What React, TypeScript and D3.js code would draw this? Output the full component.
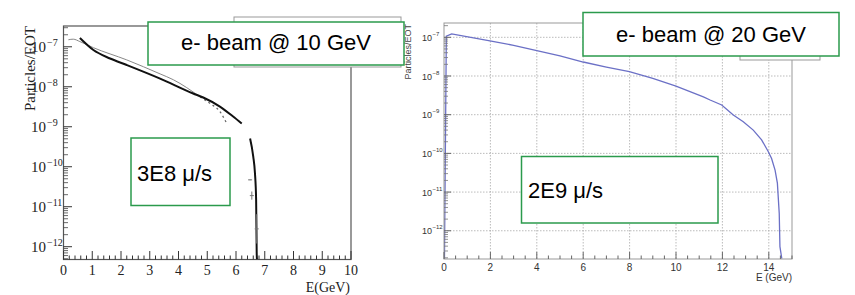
import React from "react";
import * as d3 from "d3";

// left plot (10 GeV beam)
const leftSolidE = [0.57, 1.04, 1.62, 2.2, 3.36, 4.51, 4.86, 5.44, 5.9, 6.2];
const leftSolidV = [1.66e-7, 8.3e-8, 5.1e-8, 3.5e-8, 1.6e-8, 6.8e-9, 5.4e-9, 3.2e-9, 1.8e-9, 1.2e-9];
const leftTailE = [6.49, 6.6, 6.66, 6.7, 6.72, 6.73];
const leftTailV = [5.1e-10, 1.8e-10, 6.8e-11, 1.5e-11, 7e-13, 4.8e-13];
const leftThinE = [0.17, 0.34, 0.57, 1.04, 2.2, 3.36, 3.82, 4.75];
const leftThinV = [1.5e-7, 1.55e-7, 1.35e-7, 9.5e-8, 4.7e-8, 2.1e-8, 1.5e-8, 5.6e-9];
const leftDotE = [4.75, 5.1, 5.44, 5.68];
const leftDotV = [5.6e-9, 3.8e-9, 2.4e-9, 1.2e-9];
const leftErrE = [6.49, 6.55, 6.72];
const leftErrLo = [4.6e-11, 1.5e-11, 1.2e-12];
const leftErrHi = [4.8e-11, 2.4e-11, 6.5e-12];

// right plot (20 GeV beam)
const rightE = [0.02, 0.1, 0.33, 1.98, 3.0, 4.0, 5.0, 6.0, 7.0, 7.99, 9.0, 10.0, 11.18, 11.47, 11.97, 12.47, 12.9, 13.33, 13.69, 13.98, 14.12, 14.27, 14.37, 14.45, 14.48, 14.56];
const rightV = [1.9e-13, 1.07e-7, 1.23e-7, 8.1e-8, 6.2e-8, 4.5e-8, 3.3e-8, 2.3e-8, 1.7e-8, 1.3e-8, 8.7e-9, 5.5e-9, 2.9e-9, 2.4e-9, 1.78e-9, 9.8e-10, 6.6e-10, 4e-10, 2.24e-10, 1.1e-10, 7.4e-11, 3.7e-11, 1.7e-11, 2.8e-12, 3.9e-13, 1.9e-13];

const leftXTicks = [0, 1, 2, 3, 4, 5, 6, 7, 8, 9, 10];
const rightXTicks = [0, 2, 4, 6, 8, 10, 12, 14];
const decades = [-7, -8, -9, -10, -11, -12];

const green = "#2b9a4c";
const blue = "#6b70c6";

function logMinors(lo: number, hi: number) {
  const out: number[] = [];
  for (let d = Math.floor(lo); d <= Math.ceil(hi); d++) {
    for (let k = 2; k <= 9; k++) {
      const v = Math.log10(k) + d;
      if (v > lo && v < hi) out.push(Math.pow(10, v));
    }
  }
  return out;
}

export default function App() {
  // left scales
  const xL = d3.scaleLinear().domain([0, 10]).range([63.5, 351]);
  const yL = d3.scaleLog().domain([Math.pow(10, -12.32), Math.pow(10, -6.48)]).range([259.5, 26]);
  // right scales
  const xR = d3.scaleLinear().domain([0, 15]).range([444, 792]);
  const yR = d3.scaleLog().domain([Math.pow(10, -12.73), Math.pow(10, -6.63)]).range([259, 23]);

  const lineL = d3
    .line<[number, number]>()
    .x((d) => xL(d[0]))
    .y((d) => yL(d[1]))
    .curve(d3.curveMonotoneX);
  const lineR = d3.line<[number, number]>().x((d) => xR(d[0])).y((d) => yR(d[1]));
  const zip = (a: number[], b: number[]) => a.map((e, i) => [e, b[i]] as [number, number]);

  const leftMinorX = d3.range(0, 10.001, 0.2).filter((v) => Math.abs(v - Math.round(v)) > 0.01);
  const rightMinorX = d3.range(0, 15.001, 0.5).filter((v) => v % 2 !== 0);
  const leftMinorY = logMinors(-12.32, -6.48);
  const rightMinorY = logMinors(-12.73, -6.63);

  const serif = "'Liberation Serif', 'DejaVu Serif', serif";
  const sans = "'Liberation Sans', Arial, sans-serif";

  return (
    <svg width={855} height={295} style={{ position: "absolute", left: 0, top: 0, background: "#fff" }}>
      <defs>
        <clipPath id="clipL">
          <rect x={63.5} y={26} width={287.5} height={233.5} />
        </clipPath>
        <clipPath id="clipR">
          <rect x={444} y={23} width={348} height={236} />
        </clipPath>
      </defs>

      {/* ---- left panel ---- */}
      <rect x={63.5} y={26} width={287.5} height={233.5} fill="none" stroke="#555" strokeWidth={1.2} />
      {leftXTicks.map((t) => (
        <g key={"lx" + t}>
          <line x1={xL(t)} x2={xL(t)} y1={259.5} y2={251} stroke="#333" />
          <text x={xL(t)} y={274.5} textAnchor="middle" fontFamily={serif} fontSize={14} fill="#222">{t}</text>
        </g>
      ))}
      {leftMinorX.map((t, i) => (
        <line key={"lmx" + i} x1={xL(t)} x2={xL(t)} y1={259.5} y2={255.5} stroke="#333" />
      ))}
      {decades.map((d) => (
        <g key={"ly" + d}>
          <line x1={63.5} x2={72} y1={yL(Math.pow(10, d))} y2={yL(Math.pow(10, d))} stroke="#333" />
          <text x={46} y={yL(Math.pow(10, d)) + 5} textAnchor="end" fontFamily={serif} fontSize={15} fill="#222">10</text>
          <text x={47} y={yL(Math.pow(10, d)) - 1} fontFamily={serif} fontSize={10} fill="#222">{"\u2212" + -d}</text>
        </g>
      ))}
      {leftMinorY.map((v, i) => (
        <line key={"lmy" + i} x1={63.5} x2={68} y1={yL(v)} y2={yL(v)} stroke="#444" strokeWidth={0.8} />
      ))}
      <text transform="translate(35,26) rotate(-90)" textAnchor="end" fontFamily={serif} fontSize={15} fill="#222">Particles/EOT</text>
      <text x={350} y={291.5} textAnchor="end" fontFamily={serif} fontSize={14} fill="#222">E(GeV)</text>

      <g clipPath="url(#clipL)" fill="none">
        <path d={lineL(zip(leftThinE, leftThinV)) || ""} stroke="#888" strokeWidth={1} />
        <path d={lineL(zip(leftDotE, leftDotV)) || ""} stroke="#666" strokeWidth={1.3} strokeDasharray="2,3" />
        <path d={lineL(zip(leftSolidE, leftSolidV)) || ""} stroke="#111" strokeWidth={2} />
        <path d={lineL(zip(leftTailE, leftTailV)) || ""} stroke="#111" strokeWidth={2} />
        {leftErrE.map((e, i) => (
          <g key={"err" + i} stroke="#777" strokeWidth={1}>
            <line x1={xL(e)} x2={xL(e)} y1={yL(leftErrLo[i])} y2={yL(leftErrHi[i])} />
            <line x1={xL(e) - 2} x2={xL(e) + 2} y1={(yL(leftErrLo[i]) + yL(leftErrHi[i])) / 2} y2={(yL(leftErrLo[i]) + yL(leftErrHi[i])) / 2} />
          </g>
        ))}
      </g>

      {/* box behind the title, left */}
      <rect x={234} y={17} width={167} height={50} fill="#fff" stroke="#999" strokeWidth={1} />

      {/* ---- right panel ---- */}
      <g stroke="#aaa" strokeWidth={0.8} strokeDasharray="1.5,1.5">
        {rightXTicks.filter((t) => t > 0).map((t) => (
          <line key={"gx" + t} x1={xR(t)} x2={xR(t)} y1={23} y2={259} />
        ))}
        {decades.map((d) => (
          <line key={"gy" + d} x1={444} x2={792} y1={yR(Math.pow(10, d))} y2={yR(Math.pow(10, d))} />
        ))}
      </g>
      <g clipPath="url(#clipR)">
        <path d={lineR(zip(rightE, rightV)) || ""} fill="none" stroke={blue} strokeWidth={1.3} />
      </g>
      <rect x={444} y={23} width={348} height={236} fill="none" stroke="#999" strokeWidth={1} />
      {rightXTicks.map((t) => (
        <g key={"rx" + t}>
          <line x1={xR(t)} x2={xR(t)} y1={259} y2={252} stroke="#666" />
          <text x={xR(t)} y={271} textAnchor="middle" fontFamily={sans} fontSize={10} fill="#333">{t}</text>
        </g>
      ))}
      {rightMinorX.map((t, i) => (
        <line key={"rmx" + i} x1={xR(t)} x2={xR(t)} y1={259} y2={255.5} stroke="#666" />
      ))}
      {decades.map((d) => (
        <g key={"ry" + d}>
          <line x1={444} x2={451} y1={yR(Math.pow(10, d))} y2={yR(Math.pow(10, d))} stroke="#666" />
          <text x={432} y={yR(Math.pow(10, d)) + 3.5} textAnchor="end" fontFamily={sans} fontSize={9} fill="#333">10</text>
          <text x={432.5} y={yR(Math.pow(10, d)) - 1.5} fontFamily={sans} fontSize={6} fill="#333">{"\u2212" + -d}</text>
        </g>
      ))}
      {rightMinorY.map((v, i) => (
        <line key={"rmy" + i} x1={444} x2={448} y1={yR(v)} y2={yR(v)} stroke="#777" strokeWidth={0.8} />
      ))}
      <text transform="translate(411,24) rotate(-90)" textAnchor="end" fontFamily={sans} fontSize={9} fill="#444">Particles/EOT</text>
      <text x={792} y={281} textAnchor="end" fontFamily={sans} fontSize={10} fill="#333">E (GeV)</text>

      {/* box behind the title, right */}
      <rect x={740} y={38} width={80} height={22} fill="#fff" stroke="#999" strokeWidth={1} />

      {/* ---- annotation boxes ---- */}
      <rect x={148} y={22} width={256} height={43} fill="#fff" stroke={green} strokeWidth={1.5} />
      <text x={276} y={50} textAnchor="middle" fontFamily={sans} fontSize={22} fill="#000">e- beam @ 10 GeV</text>
      <rect x={131} y={138} width={99} height={67.5} fill="#fff" stroke={green} strokeWidth={1.5} />
      <text x={137} y={180.5} fontFamily={sans} fontSize={22} fill="#000">3E8 μ/s</text>

      <rect x={583} y={12.5} width={256} height={43.5} fill="#fff" stroke={green} strokeWidth={1.5} />
      <text x={711} y={41.5} textAnchor="middle" fontFamily={sans} fontSize={22} fill="#000">e- beam @ 20 GeV</text>
      <rect x={521.5} y={156.5} width={196.5} height={66.5} fill="#fff" stroke={green} strokeWidth={1.5} />
      <text x={528} y={198} fontFamily={sans} fontSize={22} fill="#000">2E9 μ/s</text>
    </svg>
  );
}
